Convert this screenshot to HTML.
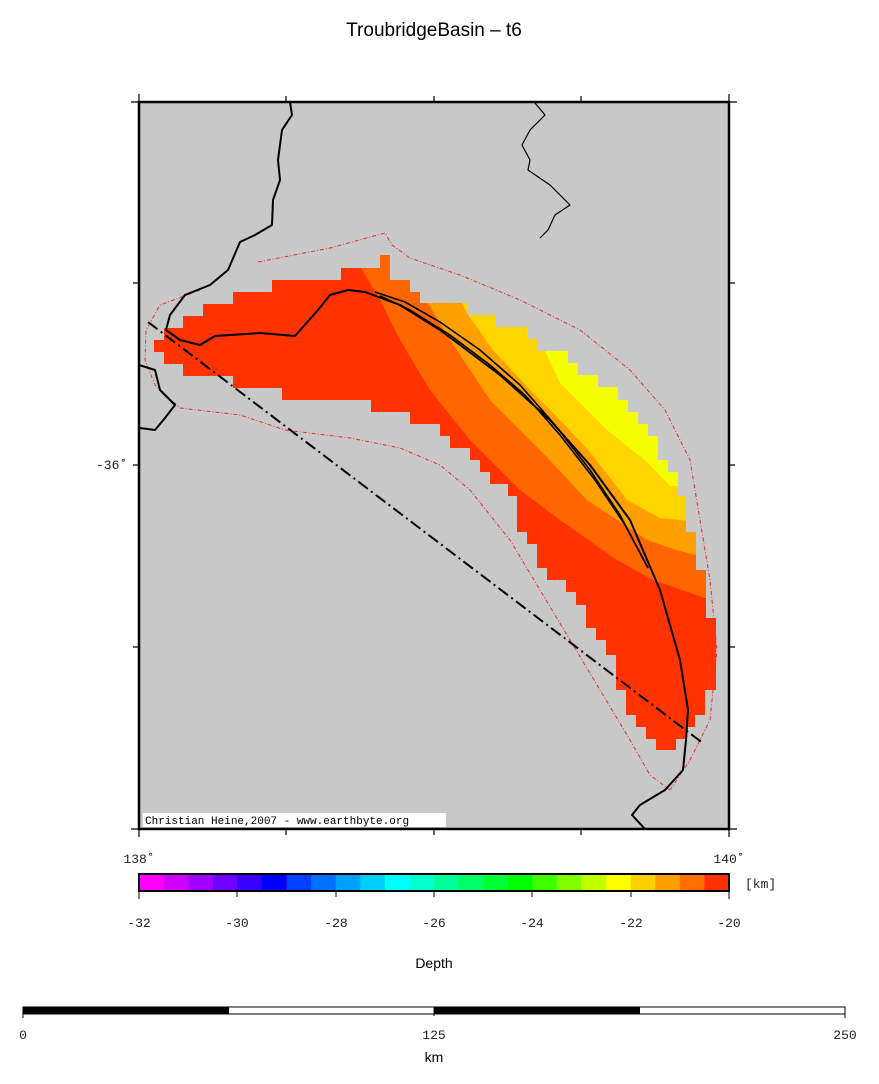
<!DOCTYPE html>
<html><head><style>body{margin:0;background:#fff}svg{display:block}</style></head><body>
<svg width="879" height="1084" xmlns="http://www.w3.org/2000/svg" font-family="Liberation Sans, sans-serif">
<text x="434" y="36" font-size="19" text-anchor="middle">TroubridgeBasin – t6</text>
<defs><clipPath id="c"><polygon id="shape" points="154,340 164,340 164,328 183,328 183,316 203,316 203,304 233,304 233,292 272,292 272,280 341,280 341,268 380,268 380,255 390,255 390,280 410,280 410,292 420,292 420,303 468,303 468,315 495,315 495,327 528,327 528,339 538,339 538,351 568,351 568,363 578,363 578,375 598,375 598,387 618,387 618,400 628,400 628,412 638,412 638,424 648,424 648,436 658,436 658,460 668,460 668,472 678,472 678,496 686,496 686,532 696,532 696,570 706,570 706,618 716,618 716,690 705,690 705,715 695,715 695,727 686,727 686,739 676,739 676,750 656,750 656,739 646,739 646,727 636,727 636,715 626,715 626,690 616,690 616,655 606,655 606,640 596,640 596,628 586,628 586,605 576,605 576,592 566,592 566,580 547,580 547,568 537,568 537,544 527,544 527,532 517,532 517,496 508,496 508,484 490,484 490,472 480,472 480,460 470,460 470,448 450,448 450,436 440,436 440,424 410,424 410,412 371,412 371,400 282,400 282,388 233,388 233,376 183,376 183,364 164,364 164,352 154,352"/></clipPath></defs>
<rect x="139" y="102" width="590" height="727" fill="#c8c8c8"/>
<g clip-path="url(#c)">
<rect x="139" y="102" width="590" height="727" fill="#ff3300"/>
<polygon fill="#ff6600" points="355,250 361,268 380,300 400,340 430,390 470,440 520,490 560,520 617,560 653,580 705,598 760,600 760,200"/>
<polygon fill="#ffa000" points="410,285 420,290 450,340 490,400 540,450 587,500 647,540 676,550 700,556 760,560 760,200"/>
<polygon fill="#ffd500" points="460,300 468,315 493,350 530,390 560,420 590,452 627,500 660,518 700,522 760,522 760,200"/>
<polygon fill="#f5ff00" points="530,330 540,340 560,383 607,430 647,462 670,486 760,486 760,200"/>
</g>
<g fill="none" stroke="#e03030" stroke-width="1" stroke-dasharray="4,2,1,2">
<polyline points="258,262 330,248 385,233 392,245 410,258 460,275 520,300 580,330 630,370 665,410 690,460 700,520 710,580 717,650 710,720 690,760 670,790"/>
<polyline points="200,290 160,305 146,330 145,360 155,385 180,408 240,415 285,430 350,438 400,448 440,465 470,490 510,540 540,590 570,640 600,690 630,740 650,775 670,790"/>
</g>
<g fill="none" stroke="#000" stroke-width="2" stroke-linejoin="round">
<polyline points="290,102 292,115 282,130 278,160 280,180 273,200 272,225 255,235 240,242 228,270 210,285 185,295 170,315 166,330 180,340 200,345 215,336 260,333 295,336 318,310 330,295 348,290 365,292 400,305 440,330 500,375 550,420 590,465 630,520 660,590 680,660 688,710 686,740 683,770 665,790 640,805 632,815 645,829"/>
<polyline points="375,292 405,302 440,322 480,350 520,385 555,425 590,470 620,515 648,568" stroke-width="1.6"/>
<polyline points="380,296 410,310 450,335 490,365 525,395 560,435 595,480 625,525 648,568" stroke-width="1.6"/>
<polyline points="139,365 155,370 160,390 175,405 165,418 155,430 140,428"/>
<polyline points="535,103 545,115 530,130 522,145 530,160 528,170 550,185 570,205 555,215 548,230 540,238" stroke-width="1.2"/>
<line x1="148" y1="322" x2="704" y2="744" stroke-dasharray="12,4,2,4"/>
</g>
<rect x="139" y="102" width="590" height="727" fill="none" stroke="#000" stroke-width="2.5"/>
<g stroke="#000" stroke-width="1.2">
<path d="M139,94V102M286,96V102M434,96V102M581,96V102M729,94V102M139,829V837M286,829V835M434,829V835M581,829V835M729,829V837M131,102H139M133,283H139M133,465H139M133,647H139M131,829H139M729,102H737M729,283H735M729,465H735M729,647H735M729,829H737"/>
</g>
<rect x="143" y="813" width="303" height="14" fill="#fff"/>
<text x="145" y="824" font-family="Liberation Mono, monospace" font-size="11">Christian Heine,2007 - www.earthbyte.org</text>
<g font-family="Liberation Mono, monospace" font-size="13" fill="#222">
<text x="96" y="469">-36˚</text>
<text x="139" y="863" text-anchor="middle">138˚</text>
<text x="729" y="863" text-anchor="middle">140˚</text>
<text x="745" y="888">[km]</text>
<text x="139" y="927" text-anchor="middle">-32</text><text x="237" y="927" text-anchor="middle">-30</text><text x="336" y="927" text-anchor="middle">-28</text><text x="434" y="927" text-anchor="middle">-26</text><text x="532" y="927" text-anchor="middle">-24</text><text x="631" y="927" text-anchor="middle">-22</text><text x="729" y="927" text-anchor="middle">-20</text>
<text x="23" y="1039" text-anchor="middle">0</text><text x="434" y="1039" text-anchor="middle">125</text><text x="845" y="1039" text-anchor="middle">250</text>
</g>
<g>
<rect x="139" y="874" width="25" height="17" fill="#ff00ff"/><rect x="163.6" y="874" width="25" height="17" fill="#d000ff"/><rect x="188.2" y="874" width="25" height="17" fill="#a000ff"/><rect x="212.8" y="874" width="25" height="17" fill="#7000ff"/><rect x="237.3" y="874" width="25" height="17" fill="#3800ff"/><rect x="261.9" y="874" width="25" height="17" fill="#0000ff"/><rect x="286.5" y="874" width="25" height="17" fill="#0040ff"/><rect x="311.1" y="874" width="25" height="17" fill="#0070ff"/><rect x="335.7" y="874" width="25" height="17" fill="#00a0ff"/><rect x="360.3" y="874" width="25" height="17" fill="#00d0ff"/><rect x="384.8" y="874" width="25" height="17" fill="#00ffff"/><rect x="409.4" y="874" width="25" height="17" fill="#00ffcc"/><rect x="434" y="874" width="25" height="17" fill="#00ff99"/><rect x="458.6" y="874" width="25" height="17" fill="#00ff66"/><rect x="483.2" y="874" width="25" height="17" fill="#00ff33"/><rect x="507.8" y="874" width="25" height="17" fill="#00ff00"/><rect x="532.3" y="874" width="25" height="17" fill="#40ff00"/><rect x="556.9" y="874" width="25" height="17" fill="#80ff00"/><rect x="581.5" y="874" width="25" height="17" fill="#c0ff00"/><rect x="606.1" y="874" width="25" height="17" fill="#ffff00"/><rect x="630.7" y="874" width="25" height="17" fill="#ffd000"/><rect x="655.3" y="874" width="25" height="17" fill="#ffa000"/><rect x="679.8" y="874" width="25" height="17" fill="#ff7000"/><rect x="704.4" y="874" width="24.6" height="17" fill="#ff3000"/>
<rect x="139" y="874" width="590" height="17" fill="none" stroke="#000" stroke-width="2"/>
<path d="M139,891V899M237,891V897M336,891V897M434,891V897M532,891V897M631,891V897M729,891V899" stroke="#000"/>
</g>
<text x="434" y="968" font-size="14" text-anchor="middle">Depth</text>
<rect x="23" y="1007" width="822" height="7" fill="#fff" stroke="#000" stroke-width="1"/>
<rect x="23" y="1007" width="206" height="7" fill="#000"/><rect x="434" y="1007" width="206" height="7" fill="#000"/>
<path d="M23,1007V1018M434,1007V1016M845,1007V1018" stroke="#000"/>
<text x="434" y="1062" font-size="14" text-anchor="middle">km</text>
</svg>
</body></html>
